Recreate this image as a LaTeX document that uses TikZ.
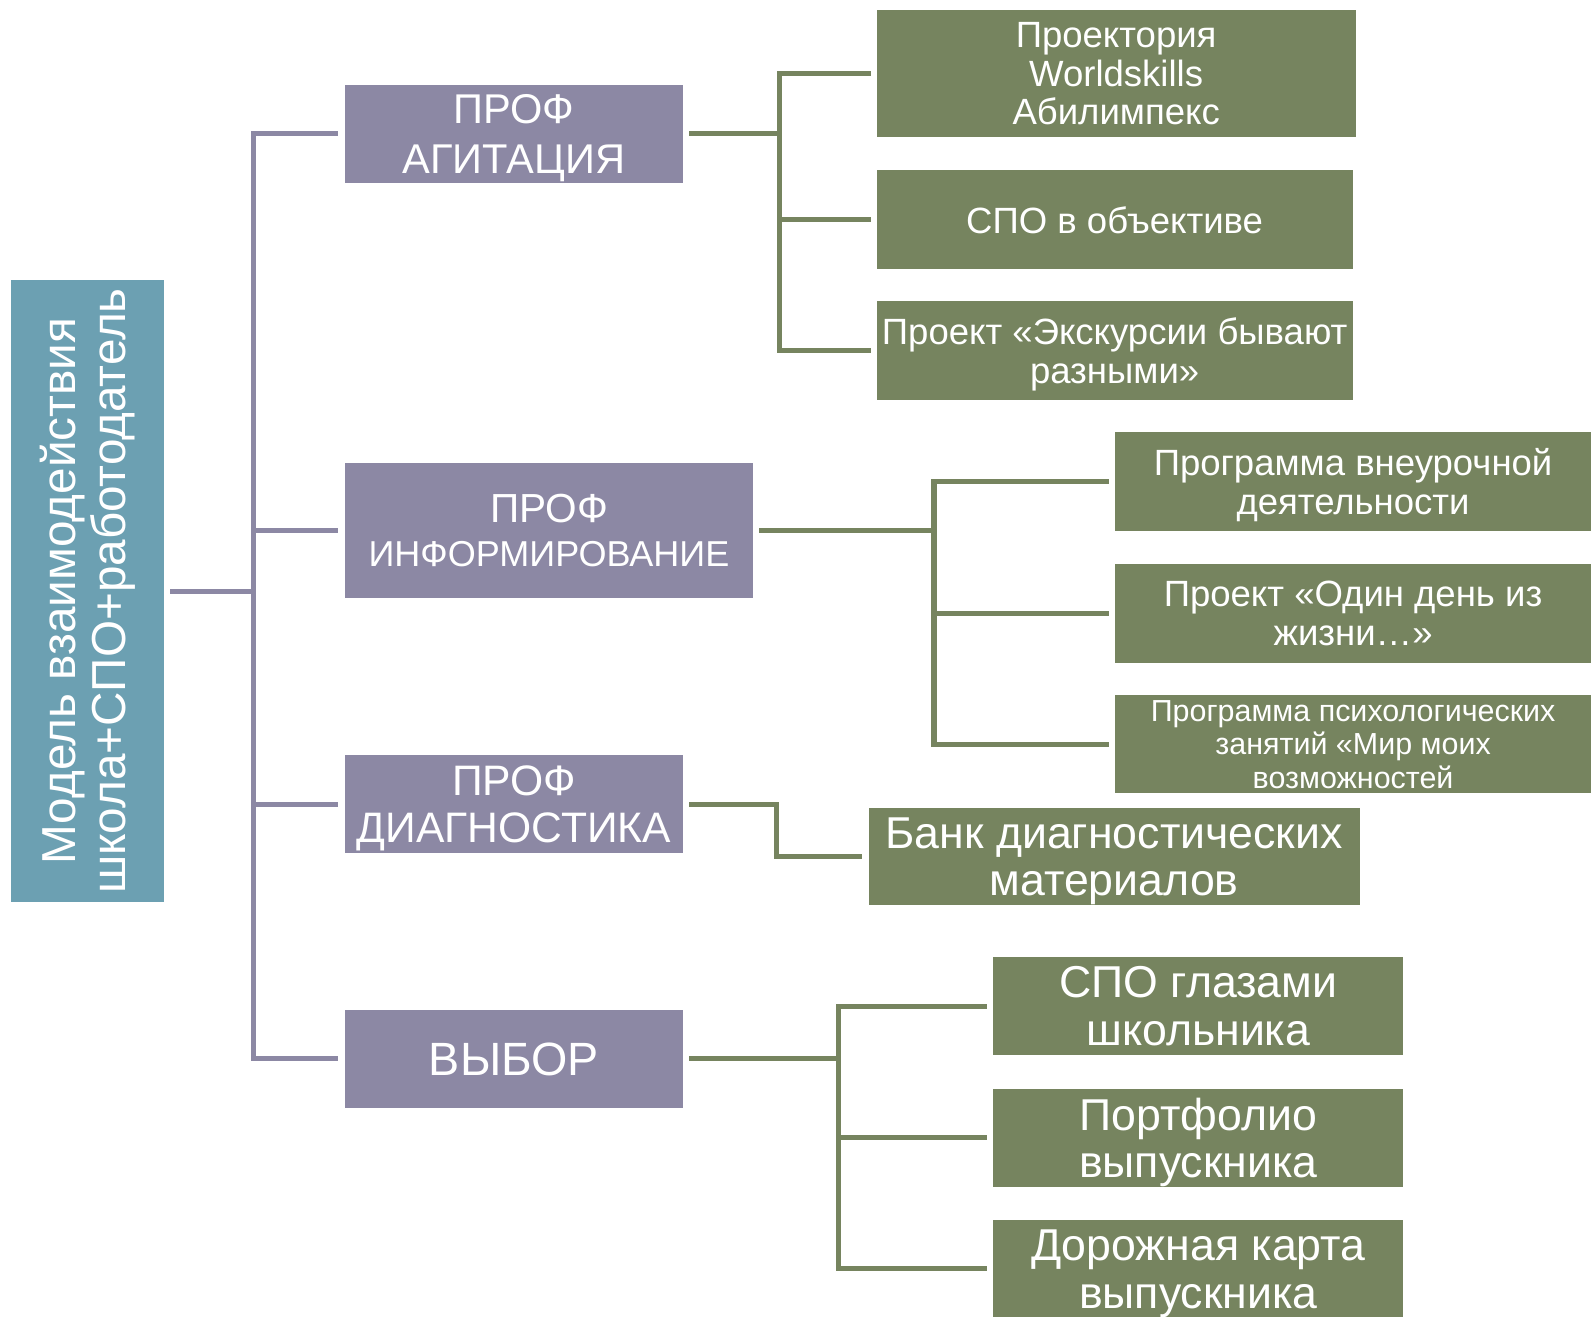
\documentclass[tikz,border=0pt]{standalone}
\usepackage{fontspec}
\setmainfont{Liberation Sans}
\usepackage{xcolor}
\usetikzlibrary{positioning}
\definecolor{rootcol}{HTML}{6CA0B2}
\definecolor{catcol}{HTML}{8C88A4}
\definecolor{itemcol}{HTML}{76845F}

\begin{document}
\begin{tikzpicture}[
    x=1pt, y=-1pt,
    rootbox/.style={rectangle, fill=rootcol, text=white, rotate=90, align=center, minimum width=613pt, minimum height=151pt, outer sep=6pt, inner sep=0pt},
    catbox/.style={rectangle, fill=catcol, text=white, align=center, minimum height=97pt, text depth=0pt, outer xsep=6.5pt, outer ysep=0pt, inner sep=0pt},
    itembox/.style={rectangle, fill=itemcol, text=white, align=center, minimum height=97pt, text depth=0pt, outer xsep=6pt, outer ysep=0pt, inner sep=0pt},
    catlink/.style={draw=catcol, line width=5pt},
    itemlink/.style={draw=itemcol, line width=5pt}
]
    \useasboundingbox (0,0) rectangle (1568,1297);

    \node[rootbox, font=\fontsize{47}{50}\selectfont] (model) at (86.5,582.5) {Модель взаимодействия\\школа+СПО+работодатель};

    \node[catbox, minimum width=333pt, font=\fontsize{41}{50}\selectfont] (agit) at (506.5,132) {ПРОФ\\АГИТАЦИЯ};
    \node[catbox, minimum width=402pt, minimum height=133pt, font=\fontsize{35.5}{44}\selectfont] (inform) at (541,522.5) {{\fontsize{40}{44}\selectfont ПРОФ}\\ИНФОРМИРОВАНИЕ};
    \node[catbox, minimum width=333pt, font=\fontsize{42}{46}\selectfont] (diagn) at (506.5,792.5) {ПРОФ\\ДИАГНОСТИКА};
    \node[catbox, minimum width=333pt, font=\fontsize{46}{50}\selectfont] (vybor) at (506.5,1043.5) {ВЫБОР};

    \node[itembox, minimum width=472pt, minimum height=125pt, font=\fontsize{36}{38}\selectfont] (proekt) at (1100,72.5) {Проектория\\Worldskills\\Абилимпекс};
    \node[itembox, minimum width=469pt, font=\fontsize{36}{38}\selectfont] (obj) at (1098.5,216.5) {СПО в объективе};
    \node[itembox, minimum width=469pt, font=\fontsize{36}{38}\selectfont] (ekskurs) at (1098.5,345.5) {Проект «Экскурсии бывают\\разными»};

    \node[itembox, minimum width=469pt, font=\fontsize{36}{38}\selectfont] (vneur) at (1333.5,474.5) {Программа внеурочной\\деятельности};
    \node[itembox, minimum width=469pt, font=\fontsize{36}{38}\selectfont] (oneday) at (1333.5,604.5) {Проект «Один день из\\жизни…»};
    \node[itembox, minimum width=469pt, font=\fontsize{30}{33}\selectfont] (psych) at (1333.5,733.5) {Программа психологических\\занятий «Мир моих\\возможностей};

    \node[itembox, minimum width=484pt, minimum height=96pt, font=\fontsize{44}{46}\selectfont] (bank) at (1098,844) {Банк диагностических\\материалов};

    \node[itembox, minimum width=404pt, font=\fontsize{44}{47}\selectfont] (glaza) at (1181,991.5) {СПО глазами\\школьника};
    \node[itembox, minimum width=404pt, font=\fontsize{44}{47}\selectfont] (portf) at (1181,1121.5) {Портфолио\\выпускника};
    \node[itembox, minimum width=404pt, font=\fontsize{44}{47}\selectfont] (road) at (1181,1250.5) {Дорожная карта\\выпускника};

    % Model to categories
    \draw[catlink] (model.south) -- ++(82,0) |- (agit.west);
    \draw[catlink] (model.south) -- ++(82,0) |- (inform.west);
    \draw[catlink] (model.south) -- ++(82,0) |- (diagn.west);
    \draw[catlink] (model.south) -- ++(82,0) |- (vybor.west);

    % Categories to items
    \draw[itemlink] (agit.east) -- ++(89,0) |- (proekt.west);
    \draw[itemlink] (agit.east) -- ++(89,0) |- (obj.west);
    \draw[itemlink] (agit.east) -- ++(89,0) |- (ekskurs.west);

    \draw[itemlink] (inform.east) -- ++(172,0) |- (vneur.west);
    \draw[itemlink] (inform.east) -- ++(172,0) |- (oneday.west);
    \draw[itemlink] (inform.east) -- ++(172,0) |- (psych.west);

    \draw[itemlink] (diagn.east) -- ++(86,0) |- (bank.west);

    \draw[itemlink] (vybor.east) -- ++(147,0) |- (glaza.west);
    \draw[itemlink] (vybor.east) -- ++(147,0) |- (portf.west);
    \draw[itemlink] (vybor.east) -- ++(147,0) |- (road.west);
\end{tikzpicture}
\end{document}
